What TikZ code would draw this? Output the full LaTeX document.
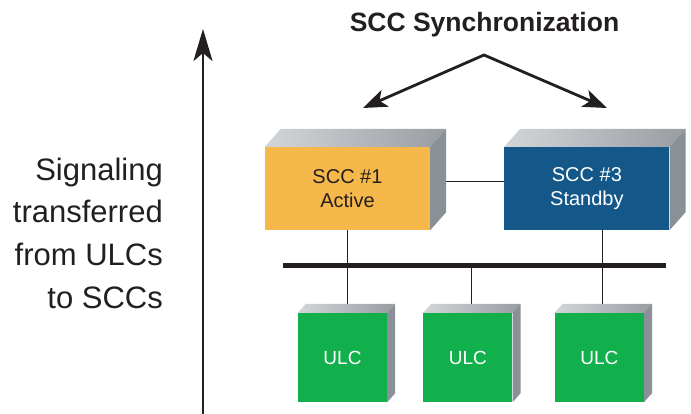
\documentclass[tikz,border=0pt]{standalone}
\usepackage{fontspec}
\setmainfont{Liberation Sans}
\usetikzlibrary{positioning,arrows.meta,backgrounds}

\definecolor{sccorange}{HTML}{F6B84A}
\definecolor{sccblue}{HTML}{135889}
\definecolor{ulcgreen}{HTML}{12B04C}
\definecolor{inkblack}{HTML}{231F20}
\definecolor{toplight}{HTML}{D3D6D9}
\definecolor{topdark}{HTML}{989DA2}
\definecolor{sidegrey}{HTML}{8A9097}

\begin{document}
\begin{tikzpicture}[x=1pt, y=-1pt,
	scc/.style={rectangle, minimum width=165pt, minimum height=83pt, inner sep=0pt, align=center, font=\fontsize{20}{24}\selectfont},
	ulc/.style={rectangle, minimum width=89pt, minimum height=89pt, inner sep=0pt, fill=ulcgreen, text=white, font=\fontsize{19}{23}\selectfont},
	wire/.style={draw=inkblack, line width=1pt},
	bigarrow/.style={draw=inkblack, line width=2.8pt}
	]

	\useasboundingbox (0,0) rectangle (691,414);

		\node (title) [anchor=base, font=\fontsize{26.5}{30}\selectfont\bfseries, text=inkblack] at (484.5,32) {SCC Synchronization};
		\node (signal) [anchor=east, align=right, inner sep=0pt, font=\fontsize{31}{42.7}\selectfont, text=inkblack] at (163,233) {Signaling\\transferred\\from ULCs\\to SCCs};

		\node (scc1) [scc, fill=sccorange, text=inkblack] at (347.5,188.5) {SCC \#1\\Active};
			\node (scc3) [scc, fill=sccblue, text=white, right=74pt of scc1] {SCC \#3\\Standby};

		\node (ulc1) [ulc] at (342.5,357.5) {ULC};
			\node (ulc2) [ulc, right=36pt of ulc1] {ULC};
			\node (ulc3) [ulc, right=42pt of ulc2] {ULC};

		\coordinate (busw) at (283,266);
		\coordinate (buse) at (666,266);
		\coordinate (apex) at (484,55);
		\coordinate (synctip1) at (363,108);
		\coordinate (synctip3) at (607,108);
		\coordinate (sigfoot) at (203,414);
		\coordinate (sigtip) at (203,29);

	\foreach \n/\dx/\dy in {scc1/16/18, scc3/16/18, ulc1/8/9, ulc2/8/9, ulc3/8/9}{
		\shade [left color=toplight, right color=topdark] (\n.north west) -- ++(\dx,-\dy) -- ([shift={(\dx,-\dy)}]\n.north east) -- (\n.north east) -- cycle;
		\fill [sidegrey] (\n.north east) -- ++(\dx,-\dy) -- ([shift={(\dx,-\dy)}]\n.south east) -- (\n.south east) -- cycle;
	}

	\begin{scope}[on background layer]
		\draw [wire] ([yshift=7pt]scc1.east) -- ([yshift=7pt]scc3.west);
		\draw [wire] (scc1.south) -- (scc1.south |- ulc1.north);
		\draw [wire] ([xshift=4pt]ulc2.north) -- ([xshift=4pt]ulc2.north |- busw);
		\draw [wire] ([xshift=3pt]ulc3.north) -- ([xshift=3pt]ulc3.north |- scc3.south);
	\end{scope}

	\draw [draw=inkblack, line width=5pt] (busw) -- (buse);

	\draw [bigarrow, {Stealth[length=24pt, width=18pt, inset=6pt]}-{Stealth[length=24pt, width=18pt, inset=6pt]}] (synctip1) -- (apex) -- (synctip3);
	\draw [bigarrow, -{Stealth[length=32pt, width=19pt, inset=8pt]}] (sigfoot) -- (sigtip);

	\end{tikzpicture}
\end{document}
